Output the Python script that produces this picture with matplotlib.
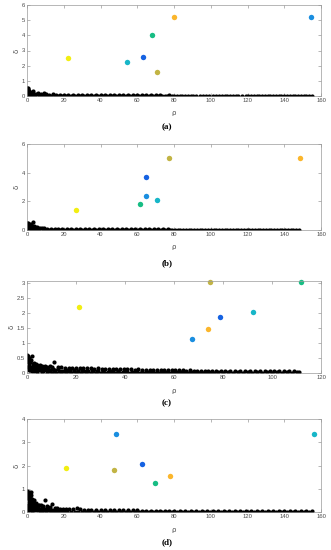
import numpy as np
import matplotlib.pyplot as plt

plt.rcParams['font.family'] = ['Liberation Sans', 'DejaVu Sans']

# cluster centres (rho, delta) for each panel, drawn in parula-like colours
center_colors = ['#f2ee12', '#fbb62c', '#c2b444', '#17bd84', '#17b6c8', '#1a8ee0', '#1562e2']

# order: yellow, orange, olive, green, cyan, blue, dark blue
rho_centers_a = [22.3, 80.1, 70.6, 68.1, 54.3, 154.5, 63.0]
delta_centers_a = [2.52, 5.19, 1.57, 4.00, 2.23, 5.19, 2.58]

rho_centers_b = [26.4, 148.5, 77.5, 61.6, 71.0, 64.5, 64.7]
delta_centers_b = [1.43, 5.02, 5.02, 1.80, 2.08, 2.34, 3.71]

rho_centers_c = [21.2, 74.0, 74.6, 112.0, 92.4, 67.4, 78.7]
delta_centers_c = [2.18, 1.46, 3.02, 3.02, 2.01, 1.12, 1.87]

rho_centers_d = [21.4, 77.9, 47.3, 69.7, 156.0, 48.7, 62.5]
delta_centers_d = [1.91, 1.54, 1.80, 1.26, 3.37, 3.37, 2.07]

# decision-graph points of the other samples (black cloud), upper part of the band
rho_cloud_a = [0.2, 0.3, 0.5, 0.6, 0.8, 1.0, 1.2, 1.5, 1.8, 2.2, 2.6, 3.0, 3.5, 4.0, 5.0, 6.0,
               7.5, 9.0, 10.5, 12, 14, 16, 18, 20, 22.5, 25, 27.5, 30, 32.5, 35, 37.5, 40,
               42.5, 45, 47.5, 50, 52.5, 55, 57.5, 60, 62.5, 65, 67.5, 70, 72.5, 75, 77.5, 80,
               83, 86, 89, 92, 96, 99, 103, 106, 109, 112, 115, 119, 122, 125, 128, 131,
               134, 137, 140, 143, 146, 149, 152, 155, 0.4, 0.9, 1.6, 2.5, 3.3]
delta_cloud_a = [0.55, 0.45, 0.50, 0.30, 0.40, 0.20, 0.30, 0.25, 0.18, 0.20, 0.15, 0.35, 0.12, 0.15, 0.10, 0.22,
                 0.10, 0.18, 0.10, 0.08, 0.15, 0.08, 0.07, 0.08, 0.07, 0.06, 0.07, 0.06, 0.06, 0.05, 0.06, 0.05,
                 0.05, 0.05, 0.05, 0.05, 0.04, 0.05, 0.04, 0.04, 0.04, 0.04, 0.04, 0.04, 0.04, 0.03, 0.04, 0.03,
                 0.03, 0.03, 0.03, 0.03, 0.03, 0.03, 0.03, 0.03, 0.03, 0.03, 0.03, 0.03, 0.03, 0.03, 0.03, 0.03,
                 0.03, 0.03, 0.03, 0.03, 0.03, 0.03, 0.03, 0.02, 0.10, 0.08, 0.06, 0.05, 0.04]

rho_cloud_b = [0.2, 0.3, 0.5, 0.7, 0.9, 1.1, 1.4, 1.7, 2.0, 2.4, 2.8, 3.2, 3.8, 4.5, 5.2, 6.0,
               7.0, 8.0, 9.5, 11, 13, 15, 17, 19, 21.5, 24, 26.5, 29, 31.5, 34, 36.5, 39,
               41.5, 44, 46.5, 49, 51.5, 54, 56.5, 59, 61.5, 64, 66.5, 69, 71.5, 74, 76.5, 79,
               82, 85, 88, 91, 94, 97, 100, 103, 106, 109, 112, 115, 118, 121, 124, 127,
               130, 133, 136, 139, 142, 145, 148, 0.4, 0.8, 1.5, 2.2, 3.0]
delta_cloud_b = [0.50, 0.40, 0.48, 0.35, 0.42, 0.30, 0.35, 0.28, 0.40, 0.25, 0.30, 0.55, 0.25, 0.22, 0.18, 0.16,
                 0.14, 0.12, 0.11, 0.10, 0.09, 0.08, 0.08, 0.07, 0.07, 0.07, 0.06, 0.06, 0.06, 0.06, 0.05, 0.05,
                 0.05, 0.05, 0.05, 0.05, 0.05, 0.04, 0.04, 0.04, 0.04, 0.04, 0.04, 0.04, 0.04, 0.04, 0.04, 0.03,
                 0.03, 0.03, 0.03, 0.03, 0.03, 0.03, 0.03, 0.03, 0.03, 0.03, 0.03, 0.03, 0.03, 0.03, 0.03, 0.03,
                 0.03, 0.03, 0.03, 0.03, 0.03, 0.03, 0.02, 0.12, 0.10, 0.08, 0.06, 0.05]

rho_cloud_c = [0.2, 0.3, 0.5, 0.7, 0.9, 1.1, 1.4, 1.7, 2.0, 2.3, 2.7, 3.1, 3.6, 4.2, 4.8, 5.5,
               6.3, 7.2, 8.2, 9.2, 10.2, 11.2, 12.5, 14, 15.5, 17, 18.5, 20, 21.5, 23, 24.5, 26,
               27.5, 29, 30.5, 32, 33.5, 35, 36.5, 38, 39.5, 41, 42.5, 44, 45.5, 47, 48.5, 50,
               51.5, 53, 54.5, 56, 57.5, 59, 60.5, 62, 63.5, 65, 66.5, 68, 69.5, 71, 72.5, 74,
               75.5, 77, 79, 81, 83, 85, 87, 89, 91, 93, 95, 97, 99, 101, 103, 105,
               107, 109, 111, 0.4, 0.8, 1.2, 1.8, 2.5, 3.3, 4.2, 5.2, 6.5, 8, 9.5,
               11, 13, 15, 17, 19, 21, 23, 25, 27, 29, 31, 33, 35, 37, 39, 41,
               43, 45, 47, 49, 51, 53, 55, 57, 59, 61, 63, 65, 67, 69, 71, 73,
               75, 78, 82, 86, 90, 94, 98, 102, 106, 110]
delta_cloud_c = [0.60, 0.55, 0.45, 0.50, 0.40, 0.38, 0.35, 0.42, 0.58, 0.30, 0.32, 0.28, 0.30, 0.26, 0.24, 0.25,
                 0.22, 0.24, 0.20, 0.22, 0.20, 0.35, 0.19, 0.20, 0.17, 0.18, 0.16, 0.17, 0.15, 0.16, 0.15, 0.15,
                 0.14, 0.15, 0.13, 0.14, 0.13, 0.12, 0.13, 0.12, 0.14, 0.12, 0.12, 0.11, 0.12, 0.11, 0.11, 0.11,
                 0.10, 0.11, 0.10, 0.10, 0.09, 0.10, 0.09, 0.09, 0.09, 0.08, 0.09, 0.08, 0.08, 0.08, 0.07, 0.08,
                 0.07, 0.08, 0.07, 0.06, 0.07, 0.06, 0.06, 0.07, 0.06, 0.06, 0.05, 0.06, 0.08, 0.05, 0.05, 0.05,
                 0.05, 0.05, 0.04, 0.20, 0.15, 0.10, 0.15, 0.12, 0.10, 0.12, 0.10, 0.08, 0.10, 0.08,
                 0.07, 0.06, 0.07, 0.06, 0.06, 0.05, 0.06, 0.05, 0.05, 0.05, 0.05, 0.04, 0.04, 0.04, 0.04, 0.04,
                 0.04, 0.04, 0.03, 0.04, 0.03, 0.03, 0.03, 0.03, 0.03, 0.03, 0.03, 0.03, 0.03, 0.03, 0.02, 0.03,
                 0.02, 0.02, 0.02, 0.02, 0.02, 0.02, 0.02, 0.02, 0.02, 0.02]

rho_cloud_d = [0.2, 0.3, 0.5, 0.7, 0.9, 1.1, 1.4, 1.7, 2.0, 2.4, 2.8, 3.2, 3.7, 4.3, 5.0, 5.8,
               6.6, 7.5, 8.5, 10.0, 11.0, 12.5, 13.5, 15, 16.5, 18, 19.5, 21, 23, 25, 27, 29,
               31, 33, 35, 37.5, 40, 42.5, 45, 47.5, 50, 52.5, 55, 57.5, 60, 62.5, 65, 67.5,
               70, 72.5, 75, 77.5, 80, 83, 86, 89, 92, 95, 98, 101, 104, 107, 110, 113,
               116, 119, 122, 125, 128, 131, 134, 137, 140, 143, 146, 149, 152, 155, 0.4, 0.8,
               1.3, 1.9, 2.6, 3.4, 4.5, 6.0, 7.5, 9.5, 12, 14.5, 17]
delta_cloud_d = [0.90, 0.70, 0.80, 0.60, 0.85, 0.55, 0.65, 0.50, 0.88, 0.45, 0.55, 0.40, 0.50, 0.35, 0.40, 0.32,
                 0.30, 0.28, 0.27, 0.50, 0.24, 0.22, 0.35, 0.18, 0.17, 0.15, 0.14, 0.13, 0.12, 0.12, 0.18, 0.11,
                 0.10, 0.10, 0.09, 0.09, 0.09, 0.08, 0.08, 0.08, 0.07, 0.07, 0.07, 0.07, 0.07, 0.06, 0.06, 0.06,
                 0.06, 0.06, 0.06, 0.05, 0.05, 0.05, 0.05, 0.05, 0.04, 0.05, 0.04, 0.06, 0.04, 0.04, 0.04, 0.04,
                 0.04, 0.04, 0.04, 0.04, 0.04, 0.04, 0.04, 0.04, 0.04, 0.04, 0.04, 0.03, 0.03, 0.03, 0.25, 0.20,
                 0.15, 0.20, 0.15, 0.12, 0.15, 0.12, 0.10, 0.08, 0.07, 0.06, 0.05]

# lower part of the band, (rho, delta) pairs
lower_a = [(4.5, 0.05), (6.8, 0.04), (8.2, 0.03), (9.8, 0.03), (11.3, 0.02), (13, 0.02), (15, 0.02),
           (17, 0.02), (19, 0.01), (21.2, 0.01), (23.7, 0.01), (26.2, 0.01), (28.7, 0.01), (31.2, 0.01),
           (33.7, 0.01), (36.2, 0.01), (38.7, 0.01), (41.2, 0.01), (43.7, 0.01), (46.2, 0.01), (48.7, 0.01),
           (51.2, 0.01), (53.7, 0.01), (56.2, 0.01), (58.7, 0.01), (61.2, 0.01), (63.7, 0.01), (66.2, 0.01),
           (68.7, 0.01), (71.2, 0.01), (73.7, 0.01), (76.2, 0.01), (78.7, 0.01), (81.5, 0.01), (84.5, 0.01),
           (87.5, 0.01), (90.5, 0.01), (94, 0.01), (97.5, 0.01), (101, 0.01), (104.5, 0.01), (107.5, 0.01),
           (110.5, 0.01), (113.5, 0.01), (117, 0.01), (120.5, 0.01), (123.5, 0.01), (126.5, 0.01),
           (129.5, 0.01), (132.5, 0.01), (135.5, 0.01), (138.5, 0.01), (141.5, 0.01), (144.5, 0.01),
           (147.5, 0.01), (150.5, 0.01), (153.5, 0.01)]

lower_b = [(4.8, 0.06), (6.5, 0.05), (8.7, 0.04), (10.2, 0.03), (12, 0.02), (14, 0.02), (16, 0.02),
           (18, 0.02), (20.2, 0.01), (22.7, 0.01), (25.2, 0.01), (27.7, 0.01), (30.2, 0.01), (32.7, 0.01),
           (35.2, 0.01), (37.7, 0.01), (40.2, 0.01), (42.7, 0.01), (45.2, 0.01), (47.7, 0.01), (50.2, 0.01),
           (52.7, 0.01), (55.2, 0.01), (57.7, 0.01), (60.2, 0.01), (62.7, 0.01), (65.2, 0.01), (67.7, 0.01),
           (70.2, 0.01), (72.7, 0.01), (75.2, 0.01), (77.7, 0.01), (80.5, 0.01), (83.5, 0.01), (86.5, 0.01),
           (89.5, 0.01), (92.5, 0.01), (95.5, 0.01), (98.5, 0.01), (101.5, 0.01), (104.5, 0.01),
           (107.5, 0.01), (110.5, 0.01), (113.5, 0.01), (116.5, 0.01), (119.5, 0.01), (122.5, 0.01),
           (125.5, 0.01), (128.5, 0.01), (131.5, 0.01), (134.5, 0.01), (137.5, 0.01), (140.5, 0.01),
           (143.5, 0.01), (146.5, 0.01)]

lower_c = [(4, 0.02), (6, 0.02), (8, 0.01), (10, 0.01), (12, 0.01), (14, 0.01), (16, 0.01), (18, 0.01),
           (20, 0.01), (22, 0.01), (24, 0.01), (26, 0.01), (28, 0.01), (30, 0.01), (32, 0.01), (34, 0.01),
           (36, 0.01), (38, 0.01), (40, 0.01), (42, 0.01), (44, 0.01), (46, 0.01), (48, 0.01), (50, 0.01),
           (52, 0.01), (54, 0.01), (56, 0.01), (58, 0.01), (60, 0.01), (62, 0.01), (64, 0.01), (66, 0.01),
           (68, 0.01), (70, 0.01), (72, 0.01), (74, 0.01), (76.5, 0.01), (80, 0.01), (84, 0.01), (88, 0.01),
           (92, 0.01), (96, 0.01), (100, 0.01), (104, 0.01), (108, 0.01),
           # filling of the dense head of the band
           (1.0, 0.25), (1.5, 0.20), (2.2, 0.15), (3.0, 0.20), (3.8, 0.15), (4.6, 0.12), (5.4, 0.17),
           (6.2, 0.12), (7.0, 0.15), (7.8, 0.10), (8.6, 0.14), (9.5, 0.10), (10.5, 0.13), (11.5, 0.09),
           (12.8, 0.12), (14.2, 0.08), (15.8, 0.11), (17.5, 0.08), (19.2, 0.10), (21, 0.08),
           (22.5, 0.10), (24, 0.07), (26.5, 0.09), (28.5, 0.07), (31, 0.08), (34, 0.07), (37, 0.08),
           (40, 0.07), (0.6, 0.35), (1.3, 0.42), (0.3, 0.20), (0.8, 0.10), (2.0, 0.05), (3.0, 0.06)]

lower_d = [(8, 0.05), (10.5, 0.04), (13, 0.03), (15.8, 0.02), (17.2, 0.02), (18.8, 0.02), (20.2, 0.02),
           (22, 0.01), (24, 0.01), (26, 0.01), (28, 0.01), (30, 0.01), (32, 0.01), (34, 0.01), (36.2, 0.01),
           (38.7, 0.01), (41.2, 0.01), (43.7, 0.01), (46.2, 0.01), (48.7, 0.01), (51.2, 0.01), (53.7, 0.01),
           (56.2, 0.01), (58.7, 0.01), (61.2, 0.01), (63.7, 0.01), (66.2, 0.01), (68.7, 0.01), (71.2, 0.01),
           (73.7, 0.01), (76.2, 0.01), (78.7, 0.01), (81.5, 0.01), (84.5, 0.01), (87.5, 0.01), (90.5, 0.01),
           (93.5, 0.01), (96.5, 0.01), (99.5, 0.01), (102.5, 0.01), (105.5, 0.01), (108.5, 0.01),
           (111.5, 0.01), (114.5, 0.01), (117.5, 0.01), (120.5, 0.01), (123.5, 0.01), (126.5, 0.01),
           (129.5, 0.01), (132.5, 0.01), (135.5, 0.01), (138.5, 0.01), (141.5, 0.01), (144.5, 0.01),
           (147.5, 0.01), (150.5, 0.01), (153.5, 0.01),
           # filling of the dense head of the band
           (0.5, 0.30), (1.0, 0.20), (1.5, 0.35), (2.0, 0.25), (2.5, 0.30), (3.0, 0.20), (3.5, 0.25),
           (4.0, 0.18), (5.0, 0.22), (6.0, 0.18), (7.0, 0.15), (8.0, 0.20), (9.0, 0.12), (10.0, 0.15),
           (11.0, 0.12), (12.0, 0.10), (1.0, 0.45), (0.6, 0.60), (1.8, 0.60), (2.2, 0.75), (0.3, 0.10),
           (1.2, 0.08), (2.5, 0.06), (3.8, 0.08), (5.5, 0.07), (7.0, 0.06), (13.5, 0.08), (16, 0.10)]

xlims = [160, 160, 120, 160]
ylims = [6, 6, 3.05, 4]
yticks = [[0, 1, 2, 3, 4, 5, 6], [0, 2, 4, 6], [0, 0.5, 1, 1.5, 2, 2.5, 3], [0, 1, 2, 3, 4]]
ytick_labels = [['0', '1', '2', '3', '4', '5', '6'], ['0', '2', '4', '6'],
                ['0', '0.5', '1', '1.5', '2', '2.5', '3'], ['0', '1', '2', '3', '4']]
xticks = [[0, 20, 40, 60, 80, 100, 120, 140, 160], [0, 20, 40, 60, 80, 100, 120, 140, 160],
          [0, 20, 40, 60, 80, 100, 120], [0, 20, 40, 60, 80, 100, 120, 140, 160]]
panel_names = ['(a)', '(b)', '(c)', '(d)']

clouds = [(rho_cloud_a, delta_cloud_a), (rho_cloud_b, delta_cloud_b),
          (rho_cloud_c, delta_cloud_c), (rho_cloud_d, delta_cloud_d)]
lowers = [lower_a, lower_b, lower_c, lower_d]
centers = [(rho_centers_a, delta_centers_a), (rho_centers_b, delta_centers_b),
           (rho_centers_c, delta_centers_c), (rho_centers_d, delta_centers_d)]

W, H = 331, 550
# axes boxes in pixels (top, bottom) and label rows
boxes = [(5, 96), (144, 230), (281, 373), (419, 512)]
rho_label_y = [113, 247, 391, 530]
panel_label_y = [127, 263, 403, 542]
left_px, right_px = 27, 321

fig = plt.figure(figsize=(W / 100, H / 100), dpi=100, facecolor='white')

edge = '#9a9a9a'
tick_text = '#4a4a4a'

for i in range(4):
    top, bot = boxes[i]
    ax = fig.add_axes([left_px / W, 1 - bot / H, (right_px - left_px) / W, (bot - top) / H])

    r, d = clouds[i]
    ax.plot(r, d, 'o', color='black', linestyle='none', markersize=3.0, markeredgewidth=0)
    lr = [p[0] for p in lowers[i]]
    ld = [p[1] for p in lowers[i]]
    ax.plot(lr, ld, 'o', color='black', linestyle='none', markersize=3.0, markeredgewidth=0)

    rc, dc = centers[i]
    for j in range(len(rc)):
        ax.plot(rc[j], dc[j], 'o', color=center_colors[j], markersize=3.9,
                markeredgewidth=0, clip_on=False)

    ax.set_xlim(0, xlims[i])
    ax.set_ylim(0, ylims[i])
    ax.set_xticks(xticks[i])
    ax.set_yticks(yticks[i])
    ax.set_yticklabels(ytick_labels[i])

    ax.tick_params(direction='in', length=2, width=0.5, colors=edge, labelcolor=tick_text,
                   labelsize=4.2, pad=1.5, top=True, right=True)
    for s in ax.spines.values():
        s.set_color(edge)
        s.set_linewidth(0.5)

    ax.set_ylabel('δ', fontsize=5, color=tick_text, labelpad=1.5, family=['DejaVu Sans'])

    cx = (left_px + right_px) / 2 / W
    fig.text(cx, 1 - rho_label_y[i] / H, 'ρ', fontsize=5, color=tick_text,
             ha='center', va='center', family=['DejaVu Sans'])
    fig.text(167 / W, 1 - panel_label_y[i] / H, panel_names[i], fontsize=6.5,
             fontweight='bold', ha='center', va='center', family=['Liberation Serif'])

fig.savefig('out.png', dpi=100, facecolor='white')
